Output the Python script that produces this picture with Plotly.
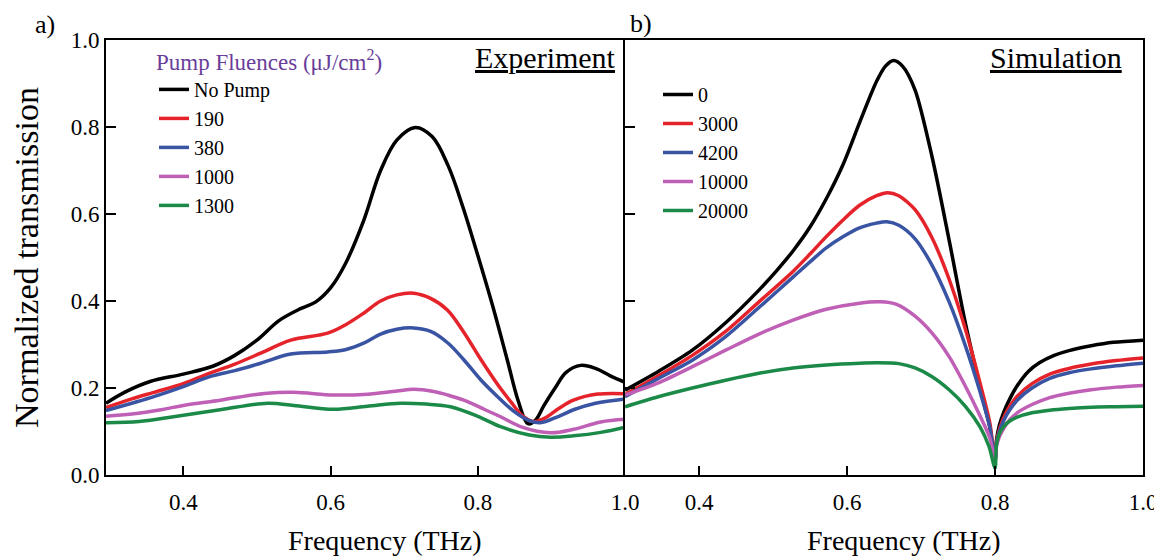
import plotly.graph_objects as go

# ---------------- Panel a: Experiment ----------------
exp_names = ["No Pump", "190", "380", "1000", "1300"]

f_exp_nopump = [0.295, 0.32, 0.355, 0.40, 0.44, 0.47, 0.50, 0.53, 0.56, 0.58, 0.60, 0.62, 0.645, 0.668, 0.69,
                0.715, 0.738, 0.76, 0.78, 0.80, 0.82, 0.84, 0.855, 0.868, 0.878, 0.89, 0.905, 0.92, 0.94,
                0.96, 0.98, 1.0]
t_exp_nopump = [0.165, 0.19, 0.215, 0.232, 0.25, 0.275, 0.31, 0.355, 0.383, 0.398, 0.43, 0.485, 0.585, 0.70,
                0.77, 0.799, 0.778, 0.71, 0.615, 0.505, 0.39, 0.265, 0.17, 0.118, 0.125, 0.16, 0.2, 0.236, 0.252,
                0.245, 0.228, 0.213]

f_exp_190 = [0.295, 0.33, 0.36, 0.40, 0.436, 0.47, 0.505, 0.546, 0.596, 0.62, 0.645, 0.668, 0.69, 0.713,
             0.736, 0.759, 0.781, 0.804, 0.827, 0.845, 0.86, 0.875, 0.89, 0.91, 0.93, 0.963, 1.0]
t_exp_190 = [0.155, 0.175, 0.19, 0.21, 0.234, 0.255, 0.28, 0.31, 0.326, 0.345, 0.372, 0.400, 0.414, 0.418,
             0.406, 0.379, 0.328, 0.266, 0.208, 0.168, 0.137, 0.123, 0.13, 0.153, 0.172, 0.186, 0.187]

f_exp_380 = [0.295, 0.33, 0.36, 0.40, 0.436, 0.47, 0.505, 0.546, 0.596, 0.62, 0.645, 0.668, 0.69, 0.713,
             0.736, 0.759, 0.781, 0.804, 0.827, 0.85, 0.87, 0.885, 0.91, 0.93, 0.96, 1.0]
t_exp_380 = [0.148, 0.165, 0.18, 0.203, 0.226, 0.24, 0.257, 0.278, 0.283, 0.288, 0.303, 0.324, 0.335, 0.338,
             0.33, 0.304, 0.265, 0.219, 0.18, 0.145, 0.125, 0.12, 0.135, 0.15, 0.165, 0.175]

f_exp_1000 = [0.295, 0.33, 0.37, 0.40, 0.45, 0.514, 0.55, 0.604, 0.645, 0.69, 0.713, 0.74, 0.759, 0.781,
              0.81, 0.831, 0.86, 0.899, 0.93, 0.967, 1.0]
t_exp_1000 = [0.135, 0.14, 0.15, 0.16, 0.172, 0.188, 0.19, 0.184, 0.185, 0.193, 0.197, 0.192, 0.184, 0.172,
              0.15, 0.134, 0.11, 0.097, 0.105, 0.122, 0.128]

f_exp_1300 = [0.295, 0.34, 0.38, 0.45, 0.514, 0.55, 0.604, 0.65, 0.695, 0.73, 0.763, 0.80, 0.831, 0.87,
              0.899, 0.93, 0.967, 1.0]
t_exp_1300 = [0.12, 0.123, 0.132, 0.15, 0.165, 0.16, 0.151, 0.158, 0.165, 0.163, 0.157, 0.135, 0.111, 0.092,
              0.087, 0.09, 0.098, 0.11]

# ---------------- Panel b: Simulation ----------------
sim_names = ["0", "3000", "4200", "10000", "20000"]

f_sim_0 = [0.3, 0.345, 0.391, 0.436, 0.481, 0.505, 0.527, 0.55, 0.572, 0.595, 0.617, 0.64, 0.652, 0.663, 0.675,
           0.692, 0.715, 0.738, 0.76, 0.783, 0.793, 0.8, 0.802, 0.806, 0.812, 0.82, 0.83, 0.845, 0.86, 0.88,
           0.90, 0.93, 0.96, 1.0]
t_sim_0 = [0.195, 0.238, 0.287, 0.35, 0.425, 0.47, 0.515, 0.57, 0.635, 0.715, 0.81, 0.905, 0.94, 0.953, 0.94,
           0.885, 0.731, 0.54, 0.349, 0.179, 0.11, 0.03, 0.08, 0.115, 0.145, 0.175, 0.205, 0.238, 0.258,
           0.275, 0.286, 0.297, 0.305, 0.31]

f_sim_3000 = [0.3, 0.345, 0.391, 0.436, 0.481, 0.527, 0.55, 0.572, 0.595, 0.617, 0.64, 0.655, 0.67, 0.692,
              0.715, 0.738, 0.76, 0.78, 0.793, 0.8, 0.802, 0.806, 0.812, 0.82, 0.83, 0.85, 0.874, 0.9, 0.93,
              0.964, 1.0]
t_sim_3000 = [0.185, 0.228, 0.275, 0.33, 0.398, 0.468, 0.508, 0.548, 0.587, 0.62, 0.642, 0.649, 0.642, 0.61,
              0.545, 0.45, 0.335, 0.21, 0.12, 0.035, 0.075, 0.105, 0.133, 0.158, 0.181, 0.21, 0.232, 0.245,
              0.255, 0.263, 0.269]

f_sim_4200 = [0.3, 0.345, 0.391, 0.436, 0.481, 0.527, 0.55, 0.572, 0.595, 0.617, 0.64, 0.654, 0.67, 0.692,
              0.715, 0.738, 0.76, 0.78, 0.793, 0.8, 0.802, 0.806, 0.812, 0.82, 0.83, 0.85, 0.874, 0.9, 0.93,
              0.964, 1.0]
t_sim_4200 = [0.18, 0.222, 0.264, 0.318, 0.385, 0.455, 0.49, 0.522, 0.548, 0.568, 0.579, 0.582, 0.574, 0.543,
              0.482, 0.398, 0.297, 0.19, 0.11, 0.035, 0.072, 0.1, 0.126, 0.15, 0.172, 0.2, 0.222, 0.235,
              0.244, 0.251, 0.257]

f_sim_10000 = [0.3, 0.345, 0.391, 0.436, 0.481, 0.527, 0.572, 0.617, 0.645, 0.667, 0.692, 0.715, 0.738, 0.76,
               0.78, 0.793, 0.8, 0.802, 0.806, 0.812, 0.82, 0.83, 0.85, 0.874, 0.9, 0.93, 0.964, 1.0]
t_sim_10000 = [0.184, 0.212, 0.249, 0.287, 0.324, 0.356, 0.381, 0.395, 0.398, 0.392, 0.365, 0.326, 0.272,
               0.204, 0.135, 0.085, 0.035, 0.065, 0.088, 0.108, 0.127, 0.143, 0.162, 0.178, 0.188, 0.196,
               0.202, 0.206]

f_sim_20000 = [0.3, 0.345, 0.391, 0.436, 0.481, 0.527, 0.572, 0.617, 0.64, 0.67, 0.692, 0.715, 0.738, 0.76,
               0.78, 0.792, 0.8, 0.802, 0.806, 0.812, 0.82, 0.83, 0.85, 0.874, 0.9, 0.93, 0.964, 1.0]
t_sim_20000 = [0.157, 0.18, 0.2, 0.218, 0.234, 0.246, 0.253, 0.257, 0.258, 0.256, 0.246, 0.226, 0.196, 0.158,
               0.11, 0.065, 0.016, 0.07, 0.095, 0.112, 0.124, 0.133, 0.143, 0.149, 0.153, 0.156, 0.157, 0.158]

x_ticks = [0.4, 0.6, 0.8, 1.0]
y_ticks = [0.0, 0.2, 0.4, 0.6, 0.8, 1.0]

colors = ["#000000", "#e5232a", "#3a54a4", "#bf5fb5", "#1b8a48"]
FONT = "Liberation Serif"

exp_series = [(f_exp_nopump, t_exp_nopump), (f_exp_190, t_exp_190), (f_exp_380, t_exp_380),
              (f_exp_1000, t_exp_1000), (f_exp_1300, t_exp_1300)]
sim_series = [(f_sim_0, t_sim_0), (f_sim_3000, t_sim_3000), (f_sim_4200, t_sim_4200),
              (f_sim_10000, t_sim_10000), (f_sim_20000, t_sim_20000)]

fig = go.Figure()
for name, (fx, ty), c in zip(exp_names, exp_series, colors):
    fig.add_trace(go.Scatter(x=fx, y=ty, name=name, mode="lines",
                             line=dict(color=c, width=3.5, shape="spline", smoothing=1.0),
                             xaxis="x", yaxis="y", legend="legend"))
for name, (fx, ty), c in zip(sim_names, sim_series, colors):
    fig.add_trace(go.Scatter(x=fx, y=ty, name=name, mode="lines",
                             line=dict(color=c, width=3.5, shape="spline", smoothing=0.8),
                             xaxis="x2", yaxis="y2", legend="legend2"))

# the page body has an 8px default margin, so the figure is 8px in from the window corner
OFF = 8
W, H = 1162 - OFF, 560 - OFF
L, T, R = 106 - OFF, 40 - OFF, 19
B = H - (475 - OFF)
pw = W - L - R
ph = H - T - B
split = (625 - 106) / pw


def px_x(p):  # window pixel -> paper x
    return (p - 106) / pw


def px_y(p):  # window pixel -> paper y
    return (475 - p) / ph


def axis_style(mirror=True):
    return dict(showline=True, linecolor="black", linewidth=2, mirror=mirror, showgrid=False,
                zeroline=False, ticks="inside", tickcolor="black", tickwidth=2,
                tickfont=dict(family=FONT, size=23, color="black"))


fig.update_layout(
    width=W, height=H,
    margin=dict(l=L, r=R, t=T, b=B, autoexpand=False),
    paper_bgcolor="white", plot_bgcolor="white",
    font=dict(family=FONT, color="black"),
    xaxis=dict(domain=[0, split], range=[0.295, 1.0], tickvals=x_ticks, ticktext=["0.4", "0.6", "0.8", "1.0"],
               ticklen=9, anchor="y", ticklabelstandoff=5, **axis_style(True)),
    yaxis=dict(domain=[0, 1], range=[0, 1.0], tickvals=y_ticks, ticktext=["0.0", "0.2", "0.4", "0.6", "0.8", "1.0"],
               ticklen=10, anchor="x",
               title=dict(text="Normalized transmission", font=dict(family=FONT, size=34), standoff=22),
               **axis_style(False)),
    xaxis2=dict(domain=[split, 1], range=[0.3, 1.0], tickvals=x_ticks, ticktext=["0.4", "0.6", "0.8", "1.0"],
                ticklen=9, anchor="y2", ticklabelstandoff=5, **axis_style(True)),
    yaxis2=dict(domain=[0, 1], range=[0, 1.0], tickvals=y_ticks, showticklabels=False,
                ticklen=10, anchor="x2", **axis_style(True)),
    legend=dict(x=px_x(154), y=px_y(40), xanchor="left", yanchor="top",
                bgcolor="rgba(0,0,0,0)", borderwidth=0,
                font=dict(family=FONT, size=20, color="black"),
                title=dict(text="Pump Fluences (μJ/cm<sup>2</sup>)",
                           font=dict(family=FONT, size=23, color="#6a3d9a")),
                tracegroupgap=0, itemwidth=30),
    legend2=dict(x=px_x(658), y=px_y(75), xanchor="left", yanchor="top",
                 bgcolor="rgba(0,0,0,0)", borderwidth=0,
                 font=dict(family=FONT, size=20, color="black"),
                 tracegroupgap=0, itemwidth=30),
    annotations=[
        dict(text="a)", xref="paper", yref="paper", x=px_x(33), y=px_y(24),
             xanchor="left", yanchor="middle", showarrow=False, font=dict(family=FONT, size=26)),
        dict(text="b)", xref="paper", yref="paper", x=px_x(628), y=px_y(23),
             xanchor="left", yanchor="middle", showarrow=False, font=dict(family=FONT, size=26)),
        dict(text="<span style='text-decoration:underline'>Experiment</span>", xref="paper", yref="paper",
             x=px_x(618), y=px_y(57), xanchor="right", yanchor="middle", showarrow=False,
             font=dict(family=FONT, size=30)),
        dict(text="<span style='text-decoration:underline'>Simulation</span>", xref="paper", yref="paper",
             x=px_x(1124), y=px_y(57), xanchor="right", yanchor="middle", showarrow=False,
             font=dict(family=FONT, size=30)),
        dict(text="Frequency (THz)", xref="paper", yref="paper", x=px_x(385), y=px_y(540),
             xanchor="center", yanchor="middle", showarrow=False, font=dict(family=FONT, size=28)),
        dict(text="Frequency (THz)", xref="paper", yref="paper", x=px_x(904), y=px_y(540),
             xanchor="center", yanchor="middle", showarrow=False, font=dict(family=FONT, size=28)),
    ],
)

fig.write_html("out.html")
